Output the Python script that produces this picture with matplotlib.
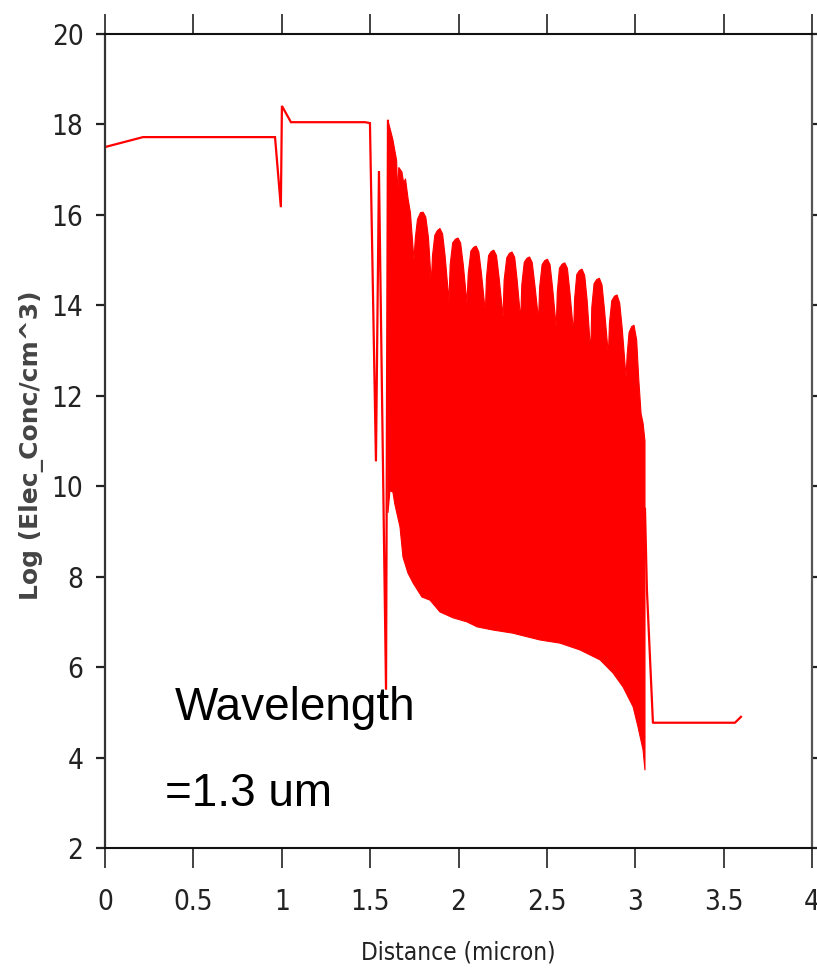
import numpy as np
import matplotlib
matplotlib.use("Agg")
import matplotlib.pyplot as plt

# profile before the oscillating region (distance in micron, log conc)
left_x = [0.0, 0.215, 0.962, 0.995, 1.001, 1.052, 1.471, 1.499, 1.533, 1.550, 1.590, 1.601]
left_y = [17.50, 17.72, 17.72, 16.17, 18.41, 18.05, 18.05, 18.03, 10.55, 16.97, 5.50, 18.08]

# profile after the oscillating region
right_x = [3.055, 3.066, 3.100, 3.564, 3.598]
right_y = [9.50, 7.70, 4.77, 4.77, 4.90]

# upper envelope of the oscillation (arches)
upper_x = [1.601, 1.610, 1.629, 1.650, 1.656, 1.662, 1.680, 1.690, 1.700, 1.715, 1.728, 1.748,
           1.756, 1.768, 1.785, 1.800, 1.815, 1.830, 1.846,
           1.853, 1.866, 1.880, 1.895, 1.910, 1.924, 1.946,
           1.953, 1.967, 1.982, 1.997, 2.012, 2.027, 2.048,
           2.055, 2.070, 2.085, 2.100, 2.115, 2.130, 2.152,
           2.158, 2.170, 2.185, 2.200, 2.215, 2.230, 2.252,
           2.258, 2.273, 2.288, 2.303, 2.318, 2.332, 2.352,
           2.358, 2.372, 2.387, 2.402, 2.417, 2.432, 2.453,
           2.459, 2.473, 2.488, 2.503, 2.518, 2.532, 2.553,
           2.559, 2.571, 2.586, 2.601, 2.616, 2.630, 2.651,
           2.657, 2.669, 2.684, 2.699, 2.714, 2.728, 2.748,
           2.754, 2.767, 2.782, 2.797, 2.812, 2.826, 2.848,
           2.854, 2.867, 2.882, 2.897, 2.912, 2.926, 2.948,
           2.954, 2.965, 2.980, 2.993, 3.008, 3.020, 3.033, 3.044, 3.055]
upper_y = [18.08, 17.95, 17.66, 17.20, 16.40, 17.05, 16.95, 16.70, 16.80, 16.35, 16.05, 15.00,
           15.50, 15.90, 16.05, 16.06, 15.95, 15.50, 14.49,
           15.10, 15.55, 15.65, 15.70, 15.58, 15.10, 14.10,
           14.90, 15.38, 15.46, 15.49, 15.38, 14.90, 14.05,
           14.70, 15.20, 15.28, 15.31, 15.18, 14.70, 13.85,
           14.60, 15.10, 15.19, 15.22, 15.10, 14.60, 13.74,
           14.55, 15.05, 15.15, 15.18, 15.06, 14.55, 13.68,
           14.45, 14.95, 15.04, 15.07, 14.95, 14.45, 13.68,
           14.40, 14.90, 14.99, 15.02, 14.90, 14.40, 13.52,
           14.30, 14.82, 14.91, 14.94, 14.82, 14.30, 13.39,
           14.15, 14.68, 14.77, 14.80, 14.66, 14.10, 12.95,
           13.95, 14.48, 14.57, 14.60, 14.45, 13.90, 12.90,
           13.60, 14.10, 14.20, 14.23, 14.05, 13.50, 12.41,
           12.90, 13.40, 13.53, 13.56, 13.23, 12.35, 11.60, 11.40, 11.00]

# lower envelope of the oscillation
lower_x = [1.601, 1.612, 1.629, 1.640, 1.669, 1.686, 1.714, 1.743, 1.793, 1.839, 1.895, 1.969,
           2.048, 2.105, 2.195, 2.308, 2.348, 2.461, 2.574, 2.687, 2.801, 2.874, 2.931, 2.988,
           3.016, 3.044, 3.055]
lower_y = [9.41, 9.90, 9.87, 9.60, 9.10, 8.43, 8.08, 7.86, 7.55, 7.48, 7.22, 7.09,
           7.00, 6.89, 6.82, 6.75, 6.71, 6.60, 6.53, 6.38, 6.16, 5.87, 5.56, 5.12,
           4.67, 4.17, 3.72]

XTICKS = [0, 0.5, 1, 1.5, 2, 2.5, 3, 3.5, 4]
XTICK_LABELS = ["0", "0.5", "1", "1.5", "2", "2.5", "3", "3.5", "4"]
YTICKS = [2, 4, 6, 8, 10, 12, 14, 16, 18, 20]

RED = "#ff0000"
NARROW = ["DejaVu Sans"]

fig = plt.figure(figsize=(8.17, 9.80), dpi=100)
ax = fig.add_axes([0.1285, 0.1347, 0.8654, 0.8306])

ax.plot(left_x, left_y, color=RED, lw=1.6, solid_joinstyle="miter")
ax.plot(right_x, right_y, color=RED, lw=1.6)
poly_x = np.concatenate([upper_x, lower_x[::-1]])
poly_y = np.concatenate([upper_y, lower_y[::-1]])
ax.fill(poly_x, poly_y, color=RED, lw=0.8, edgecolor=RED)

ax.set_xlim(0, 4)
ax.set_ylim(2, 20)
ax.set_xticks(XTICKS)
ax.set_xticklabels(XTICK_LABELS)
ax.set_yticks(YTICKS)

ax.tick_params(axis="x", which="major", direction="out", length=14.5, width=1.2,
               top=True, bottom=True, labeltop=False, pad=14, labelsize=20,
               colors="#222222")
ax.tick_params(axis="y", which="major", direction="out", length=6.5, width=1.6,
               left=True, right=True, labelright=False, pad=9, labelsize=20,
               colors="#222222")
for lab in ax.get_xticklabels() + ax.get_yticklabels():
    lab.set_family(NARROW)
    lab.set_stretch("condensed")

ax.spines["top"].set_color("#111111")
ax.spines["bottom"].set_color("#111111")
ax.spines["left"].set_color("#333333")
ax.spines["right"].set_color("#555555")
for s in ["top", "bottom"]:
    ax.spines[s].set_linewidth(1.5)
for s in ["left", "right"]:
    ax.spines[s].set_linewidth(1.6)

ax.set_xlabel("Distance (micron)", fontsize=17.5, family=NARROW, stretch="condensed",
              color="#222222")
ax.xaxis.set_label_coords(0.5, -0.114)
ax.set_ylabel("Log (Elec_Conc/cm^3)", fontsize=18, fontweight="bold",
              family="DejaVu Sans", color="#444444")
ax.yaxis.set_label_coords(-0.086, 0.495)

ax.text(0.396, 4.83, "Wavelength", fontsize=33, family=["Liberation Sans", "DejaVu Sans"],
        color="black", ha="left", va="baseline")
ax.text(0.340, 2.93, "=1.3 um", fontsize=33, family=["Liberation Sans", "DejaVu Sans"],
        color="black", ha="left", va="baseline")

fig.savefig("out.png", dpi=100, facecolor="white")
